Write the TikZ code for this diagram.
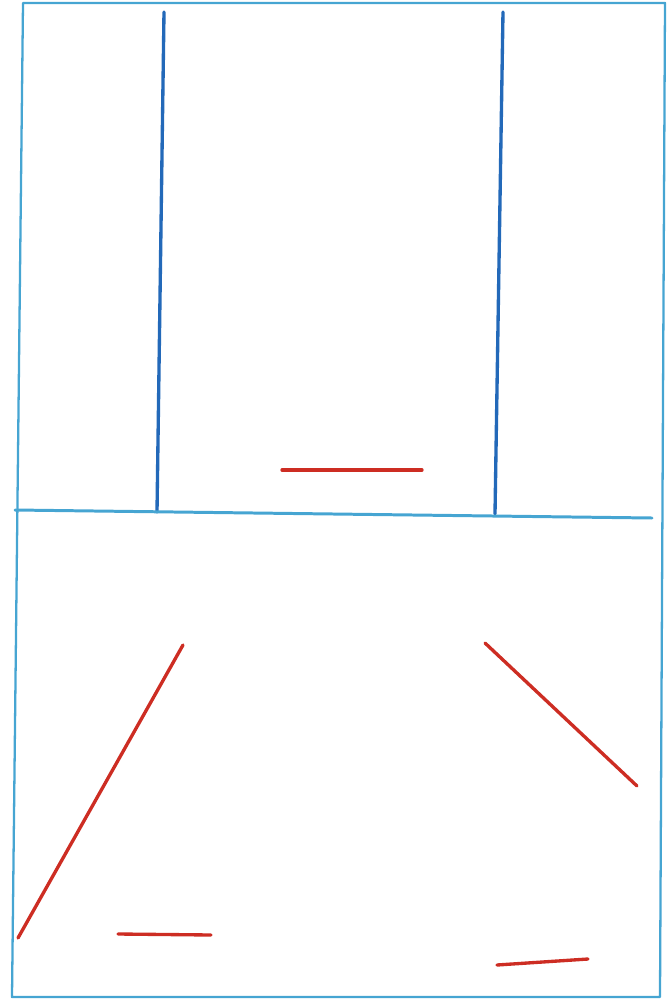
\documentclass[tikz,border=0pt]{standalone}
\begin{document}
\begin{tikzpicture}[x=0.02cm,y=-0.02cm,line join=round,line cap=round,
					framecol/.style={draw={rgb,255:red,70;green,165;blue,210},line width=1.3pt},
					wall/.style={draw={rgb,255:red,35;green,105;blue,185},line width=1.9pt},
					redstroke/.style={draw={rgb,255:red,205;green,45;blue,35},line width=1.9pt}]
					\useasboundingbox (0,0) rectangle (670,1005);
					\path
					(23,3) coordinate (TL)
					(665,3) coordinate (TR)
					(660,997) coordinate (BR)
					(12,997) coordinate (BL)
					(164,12) coordinate (Wa)
					(157,512) coordinate (Wap)
					(503,12) coordinate (Wb)
					(495,514) coordinate (Wbp)
					(15,510) coordinate (Fa)
					(652,518) coordinate (Fb)
					(282,470) coordinate (Ma)
					(422,470) coordinate (Mb)
					(183,645) coordinate (La)
					(18,938) coordinate (Lb)
					(118,934) coordinate (Ka)
					(211,935) coordinate (Kb)
					(485,643) coordinate (Ra)
					(637,786) coordinate (Rb)
					(497,965) coordinate (Sa)
					(588,959) coordinate (Sb);
					% frame
					\draw[framecol] (TL) -- (TR) -- (BR) -- (BL) -- cycle;
					% blue lines
					\draw[wall] (Wa) -- (Wap)
					(Wb) -- (Wbp);
					\draw[framecol,line width=1.7pt] (Fa) -- (Fb);
					% red strokes
					\draw[redstroke] (Ma) -- (Mb);
					\draw[redstroke] (La) -- (Lb)
					(Ka) -- (Kb);
					\draw[redstroke] (Ra) -- (Rb)
					(Sa) -- (Sb);
				\end{tikzpicture}
\end{document}
